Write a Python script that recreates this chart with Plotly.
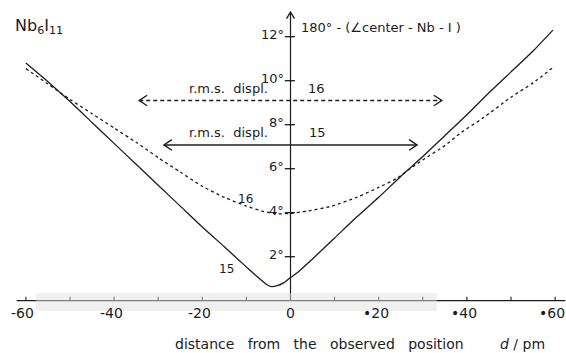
import plotly.graph_objects as go

# Distance from the observed position (pm) and the bending angle 180° - (∠center-Nb-I), degrees
d_15 = [-60, -55, -50, -45, -40, -35, -30, -25, -20, -15, -12, -9, -7, -5.5, -4.3, -3, -1.5,
        0, 2, 5, 10, 15, 20, 25, 30, 35, 40, 45, 50, 55, 59.5]
angle_15 = [10.8, 9.95, 9.05, 8.1, 7.15, 6.2, 5.25, 4.3, 3.35, 2.45, 1.9, 1.35, 1.0, 0.75, 0.64, 0.68, 0.82,
            1.05, 1.35, 1.9, 2.85, 3.8, 4.7, 5.65, 6.55, 7.5, 8.45, 9.45, 10.4, 11.35, 12.3]

d_16 = [-60, -55, -50, -45, -40, -35, -30, -25, -20, -15, -10, -6, -3,
        0, 4, 9.4, 15, 20, 24, 27.1, 30, 35, 38.4, 43.6, 50, 55, 59.5]
angle_16 = [10.55, 9.85, 9.15, 8.5, 7.85, 7.2, 6.5, 5.85, 5.2, 4.7, 4.3, 4.05, 3.95,
            3.97, 4.08, 4.3, 4.7, 5.15, 5.55, 6.0, 6.4, 7.05, 7.6, 8.3, 9.25, 9.9, 10.6]

# r.m.s. displacements (pm) and the heights at which their arrows are drawn (deg)
rms_15, rms_15_level = 28.7, 7.08
rms_16, rms_16_level = 34.3, 9.1

x_ticks = [-60, -50, -40, -30, -20, -10, 0, 10, 20, 30, 40, 50, 60]
x_tick_labels = {-60: "-60", -40: "-40", -20: "-20", 0: "0", 20: "•20", 40: "•40", 60: "•60"}
y_ticks = [2, 4, 6, 8, 10, 12]
y_tick_labels = ["2°", "4°", "6°", "8°", "10°", "12°"]

INK = "#1c1c1c"
FONT = "DejaVu Sans"

fig = go.Figure()

fig.add_trace(go.Scatter(x=d_15, y=angle_15, mode="lines", line=dict(color=INK, width=1.3, shape="spline", smoothing=0.6),
                         hoverinfo="skip", showlegend=False))
fig.add_trace(go.Scatter(x=d_16, y=angle_16, mode="lines", line=dict(color=INK, width=1.3, dash="3px,3px", shape="spline", smoothing=0.6),
                         hoverinfo="skip", showlegend=False))

shapes = []
# horizontal axis with small upward ticks
shapes.append(dict(type="line", x0=-62.1, x1=62.3, y0=0, y1=0, line=dict(color=INK, width=1.2)))
for t in x_ticks:
    shapes.append(dict(type="line", x0=t, x1=t, y0=0, y1=0.18, line=dict(color=INK, width=1.1)))
# vertical axis at d = 0 with crossing ticks
y_top = 13.12
shapes.append(dict(type="line", x0=0, x1=0, y0=0, y1=y_top, line=dict(color=INK, width=1.2)))
for t in y_ticks:
    shapes.append(dict(type="line", x0=-1.3, x1=1.0, y0=t, y1=t, line=dict(color=INK, width=1.3)))
# pale band of the printed original running along the lower axis
shapes.append(dict(type="rect", x0=-57.7, x1=33.2, y0=-0.47, y1=0.35, layer="above",
                   line=dict(width=0), fillcolor="rgba(225,225,225,0.5)"))

fig.update_layout(shapes=shapes)

# open arrowheads
def chevron(x_tip, y_tip, dx, dy):
    fig.add_trace(go.Scatter(x=[x_tip + dx, x_tip, x_tip + dx], y=[y_tip + dy, y_tip, y_tip - dy], mode="lines",
                             line=dict(color=INK, width=1.4), hoverinfo="skip", showlegend=False))

def v_chevron(x_tip, y_tip, dx, dy):
    fig.add_trace(go.Scatter(x=[x_tip - dx, x_tip, x_tip + dx], y=[y_tip - dy, y_tip, y_tip - dy], mode="lines",
                             line=dict(color=INK, width=1.3), hoverinfo="skip", showlegend=False))

v_chevron(0, y_top, 0.9, 0.3)

# r.m.s. displacement arrows
fig.add_trace(go.Scatter(x=[-rms_15, rms_15], y=[rms_15_level, rms_15_level], mode="lines",
                         line=dict(color=INK, width=1.6), hoverinfo="skip", showlegend=False))
fig.add_trace(go.Scatter(x=[-rms_16, rms_16], y=[rms_16_level, rms_16_level], mode="lines",
                         line=dict(color=INK, width=1.4, dash="4px,3px"), hoverinfo="skip", showlegend=False))
for lvl, r in ((rms_15_level, rms_15), (rms_16_level, rms_16)):
    chevron(-r, lvl, 1.8, 0.24)
    chevron(r, lvl, -1.8, 0.24)

ann = []
for t, s in x_tick_labels.items():
    shift = -3 if s[0] in "-•" else 0
    ann.append(dict(x=t, y=-0.55, text=s, xshift=shift, showarrow=False, xanchor="center", yanchor="middle",
                    font=dict(family=FONT, size=14, color=INK)))
for t, s in zip(y_ticks, y_tick_labels):
    ann.append(dict(x=-1.1, y=t, text=s, yshift=2, showarrow=False, xanchor="right", yanchor="middle",
                    font=dict(family=FONT, size=13, color=INK)))

ann += [
    dict(x=2.0, y=12.4, text="180° - (∠center - Nb - I )", showarrow=False, xanchor="left", yanchor="middle",
         font=dict(family=FONT, size=13, color=INK)),
    dict(x=-63.0, y=12.45, text="Nb<sub>6</sub>I<sub>11</sub>", showarrow=False, xanchor="left", yanchor="middle",
         font=dict(family=FONT, size=16, color=INK)),
    dict(x=-26.6, y=-1.95, text="distance   from   the   observed   position", showarrow=False, xanchor="left",
         yanchor="middle", font=dict(family=FONT, size=14, color=INK)),
    dict(x=47.0, y=-1.95, text="<i>d</i> / pm", showarrow=False, xanchor="left", yanchor="middle",
         font=dict(family=FONT, size=14, color=INK)),
    dict(x=-14.0, y=rms_16_level + 0.55, text="r.m.s.  displ.", showarrow=False, xanchor="center", yanchor="middle",
         font=dict(family=FONT, size=13, color=INK)),
    dict(x=6.0, y=rms_16_level + 0.55, text="16", showarrow=False, xanchor="center", yanchor="middle",
         font=dict(family=FONT, size=13, color=INK)),
    dict(x=-14.0, y=rms_15_level + 0.55, text="r.m.s.  displ.", showarrow=False, xanchor="center", yanchor="middle",
         font=dict(family=FONT, size=13, color=INK)),
    dict(x=6.2, y=rms_15_level + 0.55, text="15", showarrow=False, xanchor="center", yanchor="middle",
         font=dict(family=FONT, size=13, color=INK)),
    dict(x=-14.6, y=1.44, text="15", showarrow=False, xanchor="center", yanchor="middle",
         font=dict(family=FONT, size=12, color=INK)),
    dict(x=-10.3, y=4.62, text="16", showarrow=False, xanchor="center", yanchor="middle",
         font=dict(family=FONT, size=12, color=INK)),
]

fig.update_layout(
    annotations=ann,
    width=566, height=353,
    margin=dict(l=0, r=0, t=0, b=0),
    paper_bgcolor="white", plot_bgcolor="white",
    xaxis=dict(range=[-65.87, 62.47], visible=False, fixedrange=True),
    yaxis=dict(range=[-2.377, 13.668], visible=False, fixedrange=True),
)

fig.write_html("out.html")
